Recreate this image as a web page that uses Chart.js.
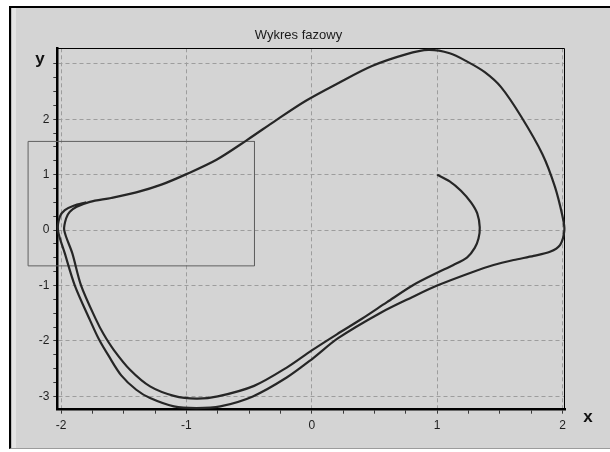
<!DOCTYPE html>
<html>
<head>
<meta charset="utf-8">
<title>Wykres fazowy</title>
<script src="https://cdn.jsdelivr.net/npm/chart.js@4.4.1/dist/chart.umd.min.js"></script>
<style>
    html, body { margin: 0; padding: 0; background: #ffffff; overflow: hidden; }
    #frame {
        position: absolute; left: 9px; top: 6px; width: 599px; height: 440px;
        background: #d4d4d4;
        border-left: 2px solid #000; border-top: 2px solid #000; border-bottom: 1px solid #9c9c9c;
        box-shadow: inset 1px 0 0 #bdbdbd, inset 5px 0 0 #e4e4e4;
    }
    #chartBox { position: absolute; left: 0; top: 0; width: 610px; height: 452px; }
</style>
</head>
<body>
<div id="frame"></div>
<div id="chartBox"><canvas id="phaseChart" width="610" height="452"></canvas></div>
<script>
// trajectory: inner first lap, then the outer (limit cycle) lap
const trajX = [
    1.00, 1.10, 1.19, 1.27, 1.32, 1.34, 1.33, 1.30, 1.24, 1.13,
    1.00, 0.81, 0.60, 0.40, 0.20, 0.00, -0.20, -0.46, -0.75, -0.92,
    -1.10, -1.29, -1.45, -1.58, -1.66, -1.72, -1.84, -1.91, -1.975, -1.96,
    -1.93, -1.875,
    -1.77, -1.60, -1.40, -1.20, -1.00, -0.76, -0.52, -0.28, -0.05, 0.21,
    0.48, 0.75, 0.93, 1.10, 1.24, 1.38, 1.51, 1.67, 1.84, 1.94,
    2.00, 2.015, 1.98, 1.90, 1.77, 1.61, 1.45, 1.29, 1.00, 0.80,
    0.55, 0.21, 0.00, -0.20, -0.47, -0.73, -0.92, -1.10, -1.29, -1.40,
    -1.52, -1.62, -1.70, -1.77, -1.89, -1.97, -2.025, -2.01, -1.97, -1.90,
    -1.80
];
const trajY = [
    1.00, 0.88, 0.71, 0.50, 0.30, 0.05, -0.15, -0.32, -0.49, -0.63,
    -0.77, -0.99, -1.30, -1.60, -1.88, -2.17, -2.48, -2.81, -3.00, -3.04,
    -2.99, -2.82, -2.52, -2.16, -1.88, -1.62, -1.00, -0.42, 0.00, 0.21,
    0.33, 0.42,
    0.51, 0.58, 0.68, 0.82, 1.01, 1.27, 1.62, 1.99, 2.33, 2.65,
    2.96, 3.17, 3.25, 3.19, 3.04, 2.85, 2.58, 2.05, 1.37, 0.78,
    0.25, 0.00, -0.27, -0.39, -0.465, -0.54, -0.63, -0.75, -1.00, -1.21,
    -1.49, -1.95, -2.33, -2.66, -3.00, -3.18, -3.21, -3.18, -3.03, -2.88,
    -2.62, -2.27, -1.96, -1.62, -1.00, -0.42, 0.00, 0.24, 0.36, 0.44,
    0.50
];

// the grey selection box
const rectX = [-2.263, -0.457, -0.457, -2.263, -2.263];
const rectY = [1.60, 1.60, -0.645, -0.645, 1.60];

const xTickLabels = [-2, -1, 0, 1, 2];
const yTickLabels = [-3, -2, -1, 0, 1, 2];
const minorStep = 0.25;

function quarterTicks(from, to) {
    const out = [];
    for (let v = from; v <= to + 1e-9; v += minorStep) out.push({ value: v });
    return out;
}

function isWhole(v) {
    return Math.abs(v - Math.round(v)) < 1e-9;
}

const fontFamily = '"Liberation Sans", Arial, sans-serif';
Chart.defaults.font.family = fontFamily;

// plot frame (top/right) plus the title and axis letters
const frameAndLabels = {
    id: 'frameAndLabels',
    beforeDatasetsDraw(chart) {
        const { ctx, chartArea: a } = chart;
        ctx.save();
        ctx.strokeStyle = '#000';
        ctx.lineWidth = 1;
        ctx.beginPath();
        ctx.moveTo(a.left, Math.round(a.top) + 0.5);
        ctx.lineTo(Math.round(a.right) - 0.5, Math.round(a.top) + 0.5);
        ctx.lineTo(Math.round(a.right) - 0.5, a.bottom);
        ctx.stroke();
        ctx.restore();
    },
    afterDraw(chart) {
        const ctx = chart.ctx;
        ctx.save();
        ctx.fillStyle = '#1a1a1a';
        ctx.textAlign = 'center';
        ctx.textBaseline = 'alphabetic';
        ctx.font = '13px ' + fontFamily;
        ctx.fillText('Wykres fazowy', 298.5, 38.5);
        ctx.fillStyle = '#111';
        ctx.font = 'bold 17px ' + fontFamily;
        ctx.fillText('y', 40, 64);
        ctx.fillText('x', 588, 422);
        ctx.restore();
    }
};

const gridColor = ctx => (ctx.tick && isWhole(ctx.tick.value)) ? '#9d9d9d' : 'rgba(0,0,0,0)';

new Chart(document.getElementById('phaseChart').getContext('2d'), {
    type: 'scatter',
    data: {
        datasets: [{
            label: 'trajektoria',
            data: trajX.map((x, i) => ({ x: x, y: trajY[i] })),
            showLine: true,
            borderColor: '#262626',
            borderWidth: 2.2,
            pointRadius: 0,
            tension: 0.3,
            clip: false
        }, {
            label: 'zakres',
            data: rectX.map((x, i) => ({ x: x, y: rectY[i] })),
            showLine: true,
            borderColor: '#606060',
            borderWidth: 1,
            pointRadius: 0,
            tension: 0,
            clip: false
        }]
    },
    options: {
        responsive: false,
        animation: false,
        layout: { padding: { top: 48.3, left: 17.3, right: 45, bottom: 22.3 } },
        plugins: {
            legend: { display: false },
            tooltip: { enabled: false },
            title: { display: false }
        },
        scales: {
            x: {
                type: 'linear',
                min: -2.03,
                max: 2.02,
                afterBuildTicks: s => { s.ticks = quarterTicks(xTickLabels[0], xTickLabels[xTickLabels.length - 1]); },
                afterFit: s => { s.height = 20; },
                ticks: {
                    autoSkip: false,
                    maxRotation: 0,
                    padding: 5,
                    color: '#1e1e1e',
                    font: { size: 12 },
                    callback: v => isWhole(v) ? String(Math.round(v)) : ''
                },
                grid: { color: gridColor, lineWidth: 1, tickLength: 4, tickColor: '#3a3a3a' },
                border: { display: true, color: '#000', width: 2.5, dash: [4, 3] }
            },
            y: {
                type: 'linear',
                min: -3.24,
                max: 3.28,
                afterBuildTicks: s => { s.ticks = quarterTicks(yTickLabels[0], yTickLabels[yTickLabels.length - 1] + 1); },
                afterFit: s => { s.width = 40; },
                ticks: {
                    autoSkip: false,
                    padding: 4,
                    color: '#1e1e1e',
                    font: { size: 12 },
                    callback: v => (isWhole(v) && yTickLabels.includes(Math.round(v))) ? String(Math.round(v)) : ''
                },
                grid: { color: gridColor, lineWidth: 1, tickLength: 4, tickColor: '#3a3a3a' },
                border: { display: true, color: '#000', width: 2.5, dash: [4, 3] }
            }
        }
    },
    plugins: [frameAndLabels]
});
</script>
</body>
</html>
